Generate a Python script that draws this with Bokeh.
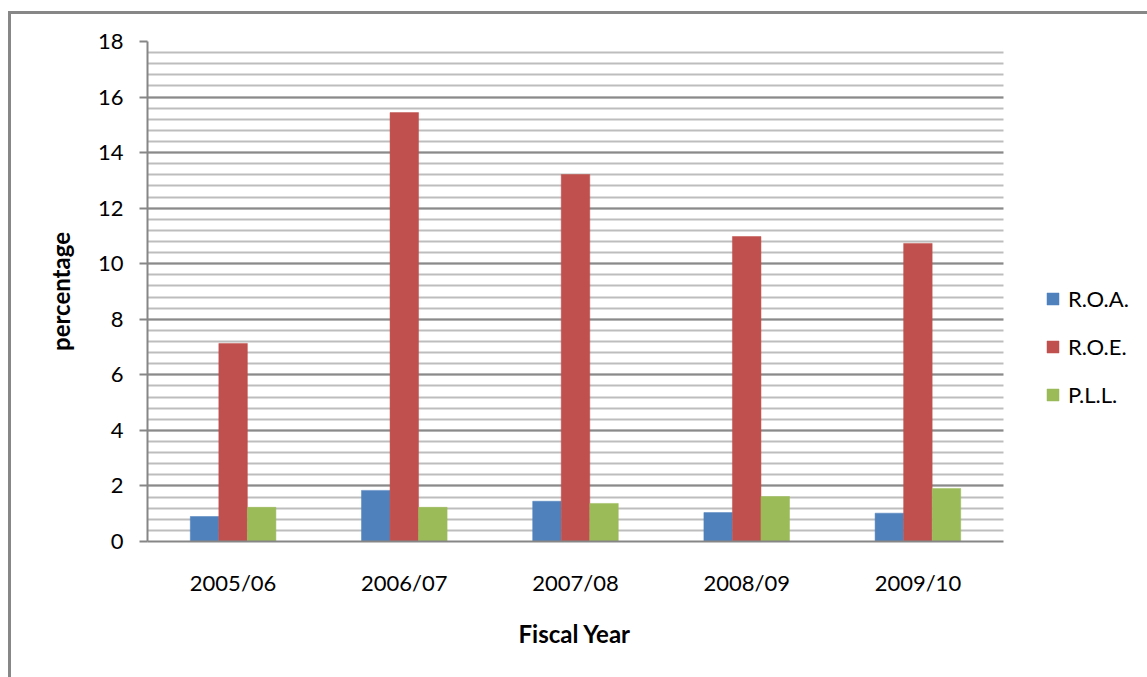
from bokeh.plotting import figure
from bokeh.models import (Range1d, SingleIntervalTicker, FixedTicker, Legend, LegendItem,
                          ColumnDataSource, InlineStyleSheet, BoxAnnotation, Title)
from bokeh.embed import file_html
from bokeh.resources import INLINE

# Profitability ratios by fiscal year (percent)
years = ["2005/06", "2006/07", "2007/08", "2008/09", "2009/10"]
roa = [0.90, 1.84, 1.45, 1.04, 1.02]
roe = [7.13, 15.44, 13.21, 10.98, 10.73]
pll = [1.23, 1.23, 1.37, 1.62, 1.91]

series_names = ["R.O.A.", "R.O.E.", "P.L.L."]
series_colors = ["#4F81BD", "#C0504D", "#9BBB59"]

FONT = "Lato"
W, H = 1147, 677
LEFT, TOP, BOTTOM = 147, 41, 136
PLOT_W = 856                      # width of the category area in pixels
n = len(years)
centers = [i + 0.5 for i in range(n)]
x_end = n * (W - LEFT) / PLOT_W   # frame runs on to the right edge to hold the legend

# Chart-area frame around the whole canvas (open to the right and bottom)
frame_css = InlineStyleSheet(css="""
:host { position: relative; }
:host::after {
  content: "";
  position: absolute;
  left: 8px; top: 11px; width: 2000px; height: 2000px;
  border-left: 3px solid #878787; border-top: 3px solid #878787;
  pointer-events: none;
}
""")

p = figure(width=W, height=H, x_range=Range1d(0, x_end), y_range=Range1d(0, 18),
           output_backend="svg", toolbar_location=None,
           min_border_left=LEFT, min_border_right=0,
           min_border_top=TOP, min_border_bottom=BOTTOM,
           stylesheets=[frame_css])
p.outline_line_color = None
p.background_fill_color = "white"
p.border_fill_color = "white"

bar_w = 1.0 / 6
renderers = []
for vals, off, color in zip([roa, roe, pll], [-bar_w, 0, bar_w], series_colors):
    src = ColumnDataSource(data=dict(x=[c + off for c in centers], top=vals))
    r = p.vbar(x="x", top="top", width=bar_w, bottom=0, source=src,
               fill_color=color, line_color=color, line_width=0.5)
    renderers.append(r)

# Y axis: major ticks every 2, minor gridlines every 0.4
p.yaxis.ticker = SingleIntervalTicker(interval=2, num_minor_ticks=5)
p.yaxis.axis_line_color = "#868686"
p.yaxis.axis_line_width = 2
p.yaxis.major_tick_line_color = "#868686"
p.yaxis.major_tick_line_width = 2
p.yaxis.major_tick_out = 8
p.yaxis.major_tick_in = 0
p.yaxis.minor_tick_out = 0
p.yaxis.minor_tick_in = 0
p.yaxis.major_label_standoff = 16
p.yaxis.major_label_text_font = FONT
p.yaxis.major_label_text_font_size = "22px"
p.yaxis.major_label_text_color = "black"
p.yaxis.axis_label = "percentage"
p.yaxis.axis_label_text_font = FONT
p.yaxis.axis_label_text_font_style = "bold"
p.yaxis.axis_label_text_font_size = "24px"
p.yaxis.axis_label_text_color = "black"
p.yaxis.axis_label_standoff = 20

p.ygrid.grid_line_color = "#8a8a8a"
p.ygrid.grid_line_width = 2
p.ygrid.minor_grid_line_color = "#bdbdbd"
p.ygrid.minor_grid_line_width = 2
p.xgrid.grid_line_color = None

# X axis: category labels at the group centres
p.xaxis.bounds = (0, n)
p.xaxis.ticker = FixedTicker(ticks=centers)
p.xaxis.major_label_overrides = {c: y for c, y in zip(centers, years)}
p.xaxis.axis_line_color = "#868686"
p.xaxis.axis_line_width = 2
p.xaxis.major_tick_line_color = None
p.xaxis.minor_tick_line_color = None
p.xaxis.major_label_standoff = 21
p.xaxis.major_label_text_font = FONT
p.xaxis.major_label_text_font_size = "22px"
p.xaxis.major_label_text_color = "black"

# X-axis title, centred under the category area
p.add_layout(Title(text="Fiscal Year", align="left", offset=371, vertical_align="top",
                   standoff=40, text_font=FONT, text_font_style="bold",
                   text_font_size="24px", text_color="black"), "below")

# Blank legend area to the right of the category area (hides the gridlines there)
p.add_layout(BoxAnnotation(left=n, fill_color="white", fill_alpha=1, line_color=None,
                           level="underlay"))

legend = Legend(items=[LegendItem(label=s, renderers=[r]) for s, r in zip(series_names, renderers)],
                location=(898, 133), orientation="vertical",
                glyph_width=15, glyph_height=15, label_height=20, spacing=21,
                label_standoff=8, padding=0, margin=0,
                border_line_color=None, background_fill_alpha=0,
                label_text_font=FONT, label_text_font_size="22px", label_text_color="black")
p.add_layout(legend, "center")

open("out.html", "w").write(file_html(p, INLINE))
